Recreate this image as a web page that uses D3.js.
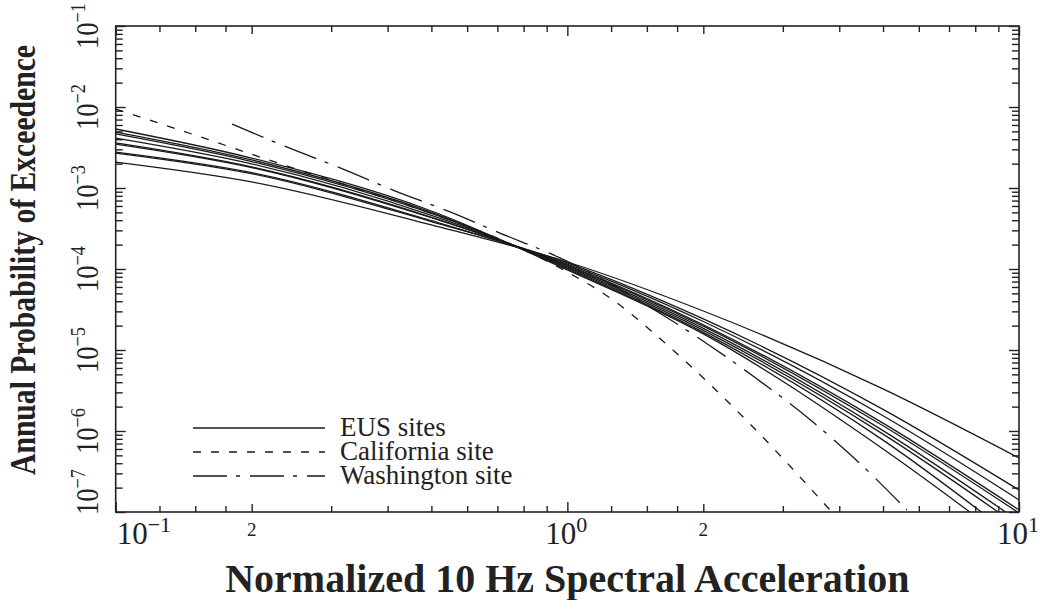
<!DOCTYPE html>
<html>
<head>
<meta charset="utf-8">
<script src="https://cdn.jsdelivr.net/npm/d3@7"></script>
<style>
  body { margin: 0; background: #fff; }
  svg text { font-family: "Liberation Serif", "DejaVu Serif", serif; fill: #222; }
</style>
</head>
<body>
<script>
// acceleration points shared by the EUS curves
var eusAccel = [0.1, 0.2, 0.5, 1, 2, 5, 10];
// one probability list per EUS site (flattest first)
var eusProb = [
    [2.09e-3, 1.19e-3, 3.50e-4, 1.22e-4, 3.03e-5, 3.31e-6, 4.65e-7],
    [2.70e-3, 1.50e-3, 3.85e-4, 1.19e-4, 2.42e-5, 1.85e-6, 1.87e-7],
    [2.78e-3, 1.55e-3, 3.95e-4, 1.15e-4, 2.25e-5, 1.54e-6, 1.41e-7],
    [3.49e-3, 1.79e-3, 4.30e-4, 1.12e-4, 2.05e-5, 1.25e-6, 1.06e-7],
    [3.60e-3, 1.82e-3, 4.35e-4, 1.09e-4, 1.97e-5, 1.16e-6, 9.73e-8],
    [4.14e-3, 1.99e-3, 4.60e-4, 1.06e-4, 1.85e-5, 1.01e-6, 7.70e-8],
    [4.65e-3, 2.12e-3, 4.85e-4, 1.03e-4, 1.75e-5, 9.14e-7, 6.60e-8],
    [4.91e-3, 2.22e-3, 5.00e-4, 1.00e-4, 1.65e-5, 7.71e-7, 4.40e-8],
    [5.35e-3, 2.34e-3, 5.20e-4, 9.73e-5, 1.58e-5, 6.00e-7, 3.50e-8]
];

var caliAccel = [0.1, 0.152, 0.212, 0.366, 0.504, 0.698, 1.0, 1.243, 1.713, 2.576, 3.815];
var caliProb = [9.44e-3, 4.38e-3, 2.34e-3, 8.67e-4, 4.78e-4, 2.42e-4, 9.18e-5, 4.39e-5, 1.0e-5, 1.12e-6, 1.06e-7];

var washAccel = [0.181, 0.239, 0.314, 0.411, 0.550, 0.709, 0.963, 1.547, 1.966, 2.576, 3.498, 4.289, 5.647];
var washProb = [6.17e-3, 3.21e-3, 1.77e-3, 9.44e-4, 5.06e-4, 2.78e-4, 1.37e-4, 3.21e-5, 1.37e-5, 4.78e-6, 1.29e-6, 4.78e-7, 1.06e-7];

// tick labels
var xMajor = [0.1, 1, 10];
var xMajorExp = ["\u22121", "0", "1"];
var xTwo = [0.2, 2];
var yMajor = [1e-1, 1e-2, 1e-3, 1e-4, 1e-5, 1e-6, 1e-7];
var yMajorExp = ["\u22121", "\u22122", "\u22123", "\u22124", "\u22125", "\u22126", "\u22127"];

var legendNames = ["EUS sites", "California site", "Washington site"];
var legendDash = ["none", "8,10", "34,9,4,10"];

function drawChart() {
    var width = 1041, height = 600;
    var m = {left: 115.7, right: 1019, top: 26, bottom: 512};

    var svg = d3.select("body").append("svg")
        .attr("width", width).attr("height", height);

    var x = d3.scaleLog().domain([0.1, 10]).range([m.left, m.right]);
    var y = d3.scaleLog().domain([1e-7, 1e-1]).range([m.bottom, m.top]);

    // tick sets
    var xMinor = [], yMinor = [];
    [0.1, 1].forEach(function (d) {
        [1.25, 1.5, 1.75, 3, 4, 5, 6, 7, 8, 9].forEach(function (k) { xMinor.push(d * k); });
    });
    yMajor.slice(1).forEach(function (d) {
        [2, 3, 4, 5, 6, 7, 8, 9].forEach(function (k) { yMinor.push(d * k); });
    });

    function tickGroup(axisFn, scale, vals, size, transform) {
        var g = svg.append("g").attr("transform", transform)
            .call(axisFn(scale).tickValues(vals).tickSize(size).tickFormat(""));
        g.select(".domain").remove();
        g.selectAll(".tick line").attr("stroke", "#222").attr("stroke-width", 1.4);
    }

    tickGroup(d3.axisBottom, x, xMajor, -10, "translate(0," + m.bottom + ")");
    tickGroup(d3.axisBottom, x, xTwo, -8, "translate(0," + m.bottom + ")");
    tickGroup(d3.axisBottom, x, xMinor, -6, "translate(0," + m.bottom + ")");
    tickGroup(d3.axisTop, x, xMajor, -10, "translate(0," + m.top + ")");
    tickGroup(d3.axisTop, x, xTwo, -8, "translate(0," + m.top + ")");
    tickGroup(d3.axisTop, x, xMinor, -6, "translate(0," + m.top + ")");
    tickGroup(d3.axisLeft, y, yMajor, -10, "translate(" + m.left + ",0)");
    tickGroup(d3.axisLeft, y, yMinor, -7, "translate(" + m.left + ",0)");
    tickGroup(d3.axisRight, y, yMajor, -10, "translate(" + m.right + ",0)");
    tickGroup(d3.axisRight, y, yMinor, -7, "translate(" + m.right + ",0)");

    svg.append("rect")
        .attr("x", m.left).attr("y", m.top)
        .attr("width", m.right - m.left).attr("height", m.bottom - m.top)
        .attr("fill", "none").attr("stroke", "#222").attr("stroke-width", 1.6);

    // curves
    svg.append("clipPath").attr("id", "plotclip")
        .append("rect").attr("x", m.left).attr("y", m.top)
        .attr("width", m.right - m.left).attr("height", m.bottom - m.top);

    var line = d3.line()
        .x(function (d) { return x(d[0]); })
        .y(function (d) { return y(d[1]); })
        .curve(d3.curveMonotoneX);

    var curves = svg.append("g").attr("clip-path", "url(#plotclip)");

    eusProb.forEach(function (probs) {
        curves.append("path")
            .attr("d", line(d3.zip(eusAccel, probs)))
            .attr("fill", "none").attr("stroke", "#1a1a1a").attr("stroke-width", 1.3);
    });

    curves.append("path")
        .attr("d", line(d3.zip(caliAccel, caliProb)))
        .attr("fill", "none").attr("stroke", "#1a1a1a").attr("stroke-width", 1.3)
        .attr("stroke-dasharray", legendDash[1]);

    curves.append("path")
        .attr("d", line(d3.zip(washAccel, washProb)))
        .attr("fill", "none").attr("stroke", "#1a1a1a").attr("stroke-width", 1.3)
        .attr("stroke-dasharray", legendDash[2]);

    // x tick labels
    xMajor.forEach(function (v, i) {
        var t = svg.append("text")
            .attr("x", i === 0 ? x(v) + 1 : x(v) - 1)
            .attr("y", 544)
            .attr("text-anchor", i === 0 ? "start" : "middle")
            .style("font-size", "31px");
        t.append("tspan").text("10");
        t.append("tspan").attr("dy", -12).style("font-size", "22px").text(xMajorExp[i]);
    });
    xTwo.forEach(function (v) {
        svg.append("text")
            .attr("x", x(v)).attr("y", 536)
            .attr("text-anchor", "middle")
            .style("font-size", "19px")
            .text("2");
    });

    // y tick labels, rotated and squeezed along the axis
    yMajor.forEach(function (v, i) {
        var last = i === yMajor.length - 1;
        var t = svg.append("text")
            .attr("transform", "translate(98," + (last ? 515 : y(v)) + ") rotate(-90)")
            .attr("text-anchor", last ? "start" : "middle")
            .attr("textLength", 46).attr("lengthAdjust", "spacingAndGlyphs")
            .style("font-size", "32px");
        t.append("tspan").text("10");
        t.append("tspan").attr("dy", -13).style("font-size", "22px").text(yMajorExp[i]);
    });

    // axis titles
    svg.append("text")
        .attr("x", (m.left + m.right) / 2).attr("y", 592)
        .attr("text-anchor", "middle")
        .style("font-size", "40px").style("font-weight", "bold")
        .text("Normalized 10 Hz Spectral Acceleration");

    svg.append("text")
        .attr("transform", "translate(35,260) rotate(-90)")
        .attr("text-anchor", "middle")
        .attr("textLength", 430).attr("lengthAdjust", "spacingAndGlyphs")
        .style("font-size", "36px").style("font-weight", "bold")
        .text("Annual Probability of Exceedence");

    // legend
    legendNames.forEach(function (name, i) {
        var ly = 428 + i * 24;
        svg.append("line")
            .attr("x1", 193).attr("x2", 325).attr("y1", ly).attr("y2", ly)
            .attr("stroke", "#1a1a1a").attr("stroke-width", 1.3)
            .attr("stroke-dasharray", legendDash[i]);
        svg.append("text")
            .attr("x", 340).attr("y", ly + 8)
            .style("font-size", "27px")
            .text(name);
    });
}

drawChart();
</script>
</body>
</html>
